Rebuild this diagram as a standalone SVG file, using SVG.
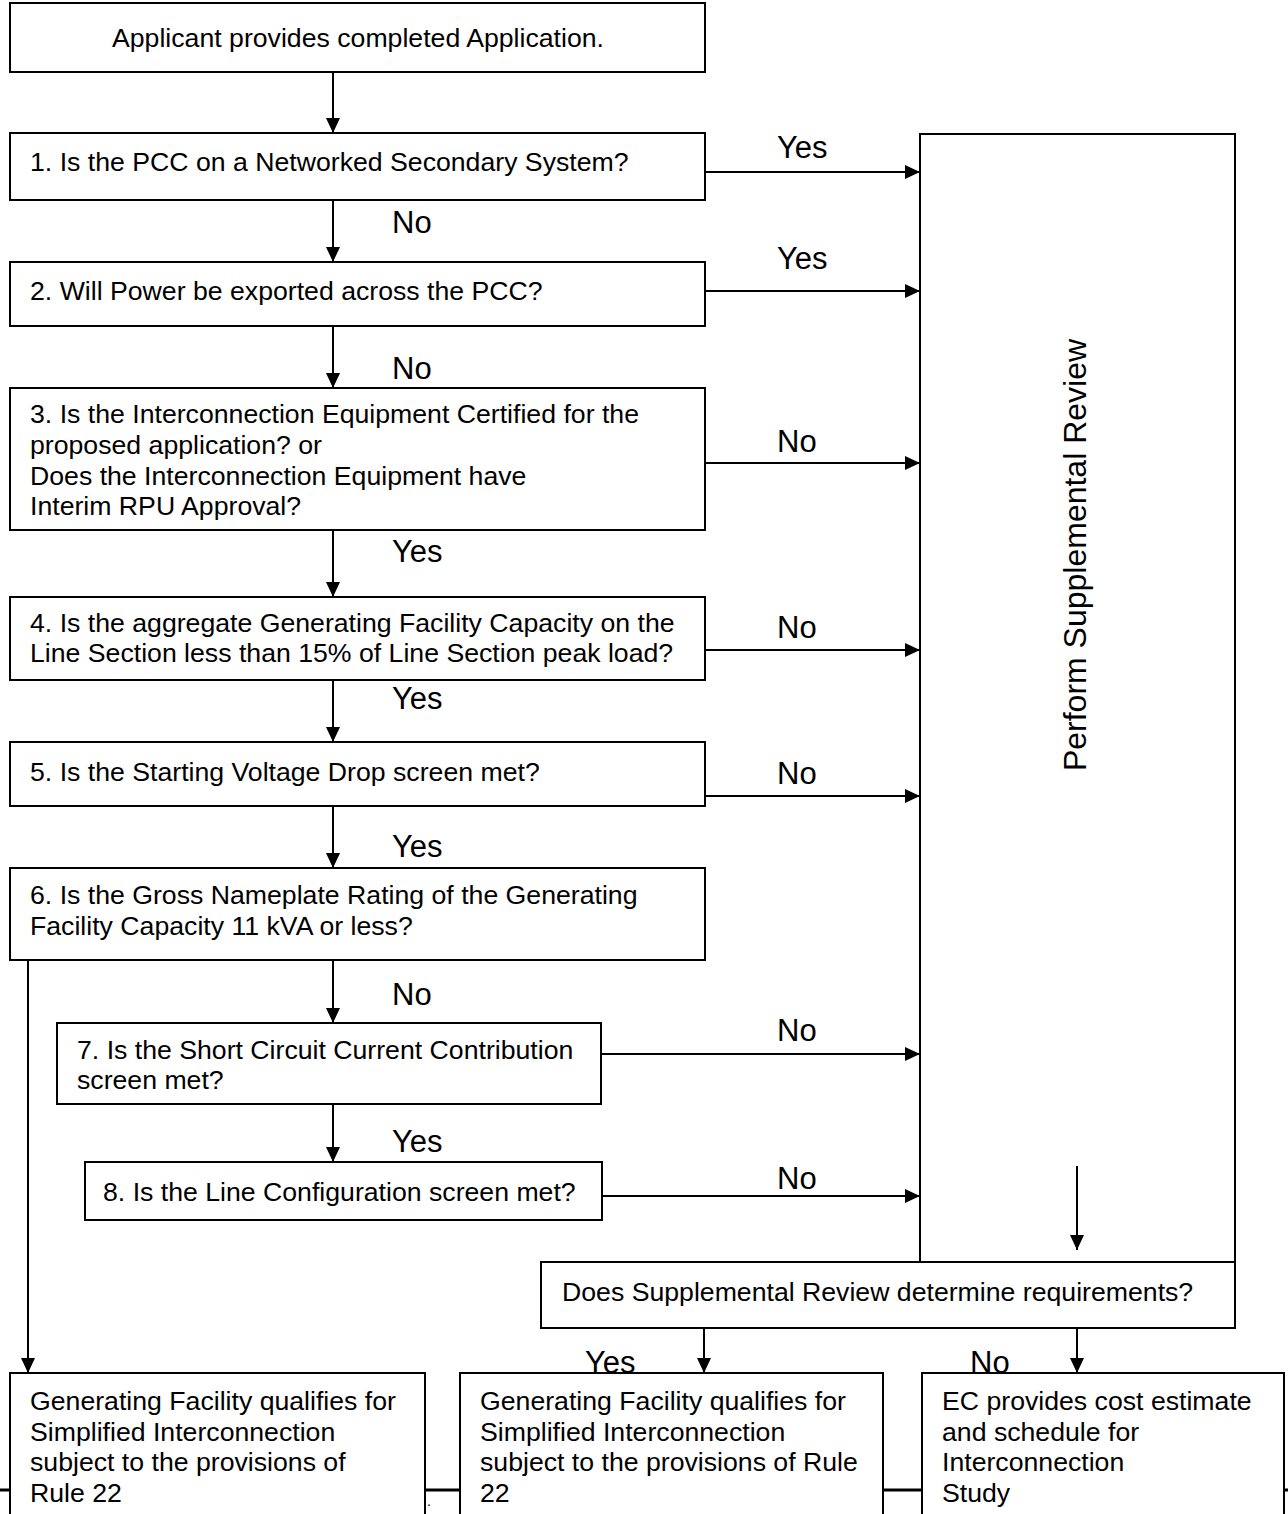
<svg xmlns="http://www.w3.org/2000/svg" width="1288" height="1514" viewBox="0 0 1288 1514">
<style>
.box{fill:#fff;stroke:#000;stroke-width:2}
.t{font-family:"Liberation Sans",Arial,sans-serif;font-size:26.67px;fill:#000}
.lbl{font-family:"Liberation Sans",Arial,sans-serif;font-size:31px;fill:#000}
.c{fill:none;stroke:#000;stroke-width:2}
</style>
<defs>
<marker id="ah" viewBox="0 0 15 14" refX="15" refY="7" markerWidth="15" markerHeight="14" markerUnits="userSpaceOnUse" orient="auto">
<path d="M0 0 L15 7 L0 14 Z" fill="#000"/>
</marker>
</defs>
<rect width="1288" height="1514" fill="#fff"/>
<line x1="0" y1="1490" x2="1288" y2="1490" stroke="#000" stroke-width="3"/>
<text class="t" x="427" y="1506" style="font-size:14px">.</text>

<g id="n0"><rect class="box" x="10" y="3" width="695" height="69"/><text class="t" x="358" y="47" text-anchor="middle">Applicant provides completed Application.</text></g>
<g id="n1"><rect class="box" x="10" y="133" width="695" height="67"/><text class="t" x="30" y="171">1. Is the PCC on a Networked Secondary System?</text></g>
<g id="n2"><rect class="box" x="10" y="262" width="695" height="64"/><text class="t" x="30" y="300">2. Will Power be exported across the PCC?</text></g>
<g id="n3"><rect class="box" x="10" y="388" width="695" height="142"/>
<text class="t" x="30" y="423">3. Is the Interconnection Equipment Certified for the</text>
<text class="t" x="30" y="454">proposed application? or</text>
<text class="t" x="30" y="485">Does the Interconnection Equipment have</text>
<text class="t" x="30" y="515">Interim RPU Approval?</text></g>
<g id="n4"><rect class="box" x="10" y="597" width="695" height="83"/>
<text class="t" x="30" y="632">4. Is the aggregate Generating Facility Capacity on the</text>
<text class="t" x="30" y="662">Line Section less than 15% of Line Section peak load?</text></g>
<g id="n5"><rect class="box" x="10" y="742" width="695" height="64"/><text class="t" x="30" y="781">5. Is the Starting Voltage Drop screen met?</text></g>
<g id="n6"><rect class="box" x="10" y="868" width="695" height="92"/>
<text class="t" x="30" y="904">6. Is the Gross Nameplate Rating of the Generating</text>
<text class="t" x="30" y="935">Facility Capacity 11 kVA or less?</text></g>
<g id="n7"><rect class="box" x="57" y="1023" width="544" height="81"/>
<text class="t" x="77" y="1059">7. Is the Short Circuit Current Contribution</text>
<text class="t" x="77" y="1089">screen met?</text></g>
<g id="n8"><rect class="box" x="85" y="1162" width="517" height="58"/><text class="t" x="103" y="1201">8. Is the Line Configuration screen met?</text></g>
<g id="n9"><rect class="box" x="920" y="134" width="315" height="1128"/><text class="lbl" transform="translate(1086,555) rotate(-90)" text-anchor="middle" style="font-size:32px">Perform Supplemental Review</text></g>
<g id="n10"><rect class="box" x="541" y="1262" width="694" height="66"/><text class="t" x="562" y="1301">Does Supplemental Review determine requirements?</text></g>
<g id="n11"><rect class="box" x="10" y="1373" width="415" height="200"/>
<text class="t" x="30" y="1410">Generating Facility qualifies for</text>
<text class="t" x="30" y="1441">Simplified Interconnection</text>
<text class="t" x="30" y="1471">subject to the provisions of</text>
<text class="t" x="30" y="1502">Rule 22</text></g>
<g id="n12"><rect class="box" x="460" y="1373" width="423" height="200"/>
<text class="t" x="480" y="1410">Generating Facility qualifies for</text>
<text class="t" x="480" y="1441">Simplified Interconnection</text>
<text class="t" x="480" y="1471">subject to the provisions of Rule</text>
<text class="t" x="480" y="1502">22</text></g>
<g id="n13"><rect class="box" x="922" y="1373" width="362" height="200"/>
<text class="t" x="942" y="1410">EC provides cost estimate</text>
<text class="t" x="942" y="1441">and schedule for</text>
<text class="t" x="942" y="1471">Interconnection</text>
<text class="t" x="942" y="1502">Study</text></g>

<g id="connectors">
<path class="c" marker-end="url(#ah)" d="M333 72 V133"/>
<path class="c" marker-end="url(#ah)" d="M333 200 V262"/>
<path class="c" marker-end="url(#ah)" d="M333 326 V388"/>
<path class="c" marker-end="url(#ah)" d="M333 530 V597"/>
<path class="c" marker-end="url(#ah)" d="M333 680 V742"/>
<path class="c" marker-end="url(#ah)" d="M333 806 V868"/>
<path class="c" marker-end="url(#ah)" d="M333 960 V1023"/>
<path class="c" marker-end="url(#ah)" d="M333 1104 V1162"/>
<path class="c" marker-end="url(#ah)" d="M705 172 H920"/>
<path class="c" marker-end="url(#ah)" d="M705 291 H920"/>
<path class="c" marker-end="url(#ah)" d="M705 463 H920"/>
<path class="c" marker-end="url(#ah)" d="M705 650 H920"/>
<path class="c" marker-end="url(#ah)" d="M705 796 H920"/>
<path class="c" marker-end="url(#ah)" d="M601 1054 H920"/>
<path class="c" marker-end="url(#ah)" d="M602 1196 H920"/>
<path class="c" marker-end="url(#ah)" d="M1077 1166 V1250"/>
<path class="c" marker-end="url(#ah)" d="M28 960 V1373"/>
<path class="c" marker-end="url(#ah)" d="M704 1328 V1373"/>
<path class="c" marker-end="url(#ah)" d="M1077 1328 V1373"/>
<text class="lbl" x="777" y="158">Yes</text>
<text class="lbl" x="777" y="269">Yes</text>
<text class="lbl" x="392" y="233">No</text>
<text class="lbl" x="392" y="379">No</text>
<text class="lbl" x="777" y="452">No</text>
<text class="lbl" x="392" y="562">Yes</text>
<text class="lbl" x="777" y="638">No</text>
<text class="lbl" x="392" y="709">Yes</text>
<text class="lbl" x="777" y="784">No</text>
<text class="lbl" x="392" y="857">Yes</text>
<text class="lbl" x="392" y="1005">No</text>
<text class="lbl" x="777" y="1041">No</text>
<text class="lbl" x="392" y="1152">Yes</text>
<text class="lbl" x="777" y="1189">No</text>
<text class="lbl" x="585" y="1373">Yes</text>
<text class="lbl" x="970" y="1373">No</text>
</g>
</svg>
